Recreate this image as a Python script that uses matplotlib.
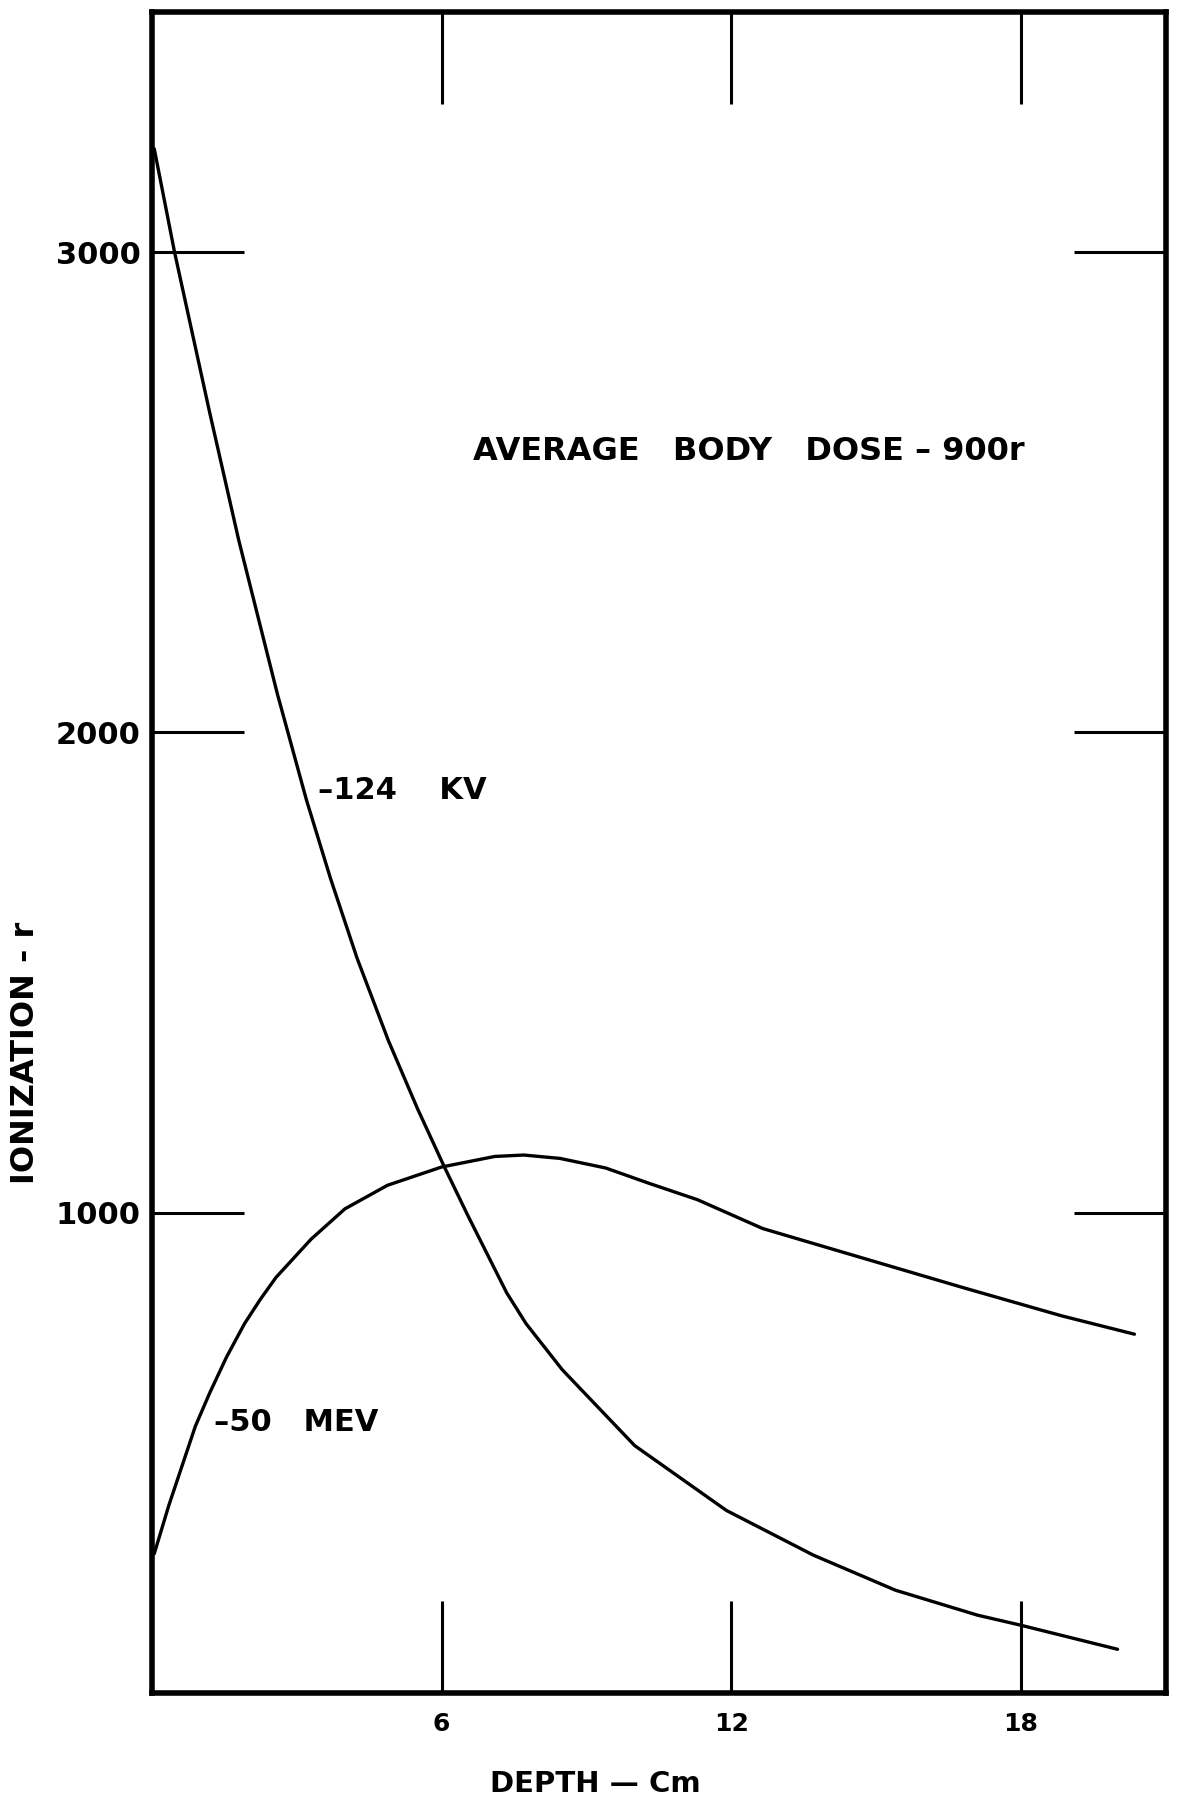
import matplotlib.pyplot as plt

# 124 KV depth-dose curve (depth in cm, ionization in r)
kv_depth = [0.05, 0.47, 1.2, 1.8, 2.6, 3.2, 3.7, 4.25, 4.9, 5.5, 6.05, 6.55,
            7.35, 7.75, 8.5, 10.0, 11.9, 13.7, 15.4, 17.1, 18.0, 20.0]
kv_dose = [3215, 3000, 2665, 2400, 2080, 1860, 1696, 1530, 1358, 1217, 1097, 993,
           833, 769, 673, 515, 380, 287, 214, 162, 141, 91]

# 50 MEV depth-dose curve
mev_depth = [0.05, 0.35, 0.63, 0.9, 1.2, 1.55, 1.92, 2.25, 2.57, 3.3, 4.0, 4.88,
             6.0, 7.1, 7.7, 8.45, 9.4, 10.3, 11.3, 12.65, 14.2, 16.8, 18.85, 20.35]
mev_dose = [290, 390, 474, 555, 625, 700, 769, 820, 865, 945, 1008, 1057,
            1095, 1117, 1120, 1113, 1093, 1061, 1027, 967, 921, 844, 785, 747]

x_ticks = [6, 12, 18]
y_ticks = [1000, 2000, 3000]

plt.rcParams['font.family'] = ['DejaVu Sans']
plt.rcParams['font.weight'] = 'bold'
plt.rcParams['axes.labelweight'] = 'bold'

fig = plt.figure(figsize=(11.77, 18.02), dpi=100)
ax = fig.add_axes([0.129, 0.0605, 0.8615, 0.9329])

line_kw = dict(color='black', lw=2.4, solid_joinstyle='round', solid_capstyle='round')
ax.plot(kv_depth, kv_dose, **line_kw)
ax.plot(mev_depth, mev_dose, **line_kw)

ax.set_xlim(0, 21)
ax.set_ylim(0, 3500)
ax.set_xticks(x_ticks)
ax.set_yticks(y_ticks)

# long inward ticks on all four sides, labels only left / bottom
ax.tick_params(direction='in', length=66, width=2.2, top=True, right=True, color='black')
ax.tick_params(axis='x', labelsize=18, pad=14)
ax.tick_params(axis='y', labelsize=22, pad=8)
for sp in ax.spines.values():
    sp.set_linewidth(4)

# curve labels and note
ax.text(3.44, 1878, '–124    KV', fontsize=22, ha='left', va='center')
ax.text(1.28, 564, '–50   MEV', fontsize=22, ha='left', va='center')
ax.text(6.65, 2584, 'AVERAGE   BODY   DOSE – 900r', fontsize=23, ha='left', va='center')

ax.set_xlabel('DEPTH — Cm', fontsize=21, va='center')
ax.xaxis.set_label_coords(0.437, -0.054)
ax.set_ylabel('IONIZATION - r', fontsize=23, va='center')
ax.yaxis.set_label_coords(-0.125, 0.381)

fig.savefig('out.png', dpi=100)
